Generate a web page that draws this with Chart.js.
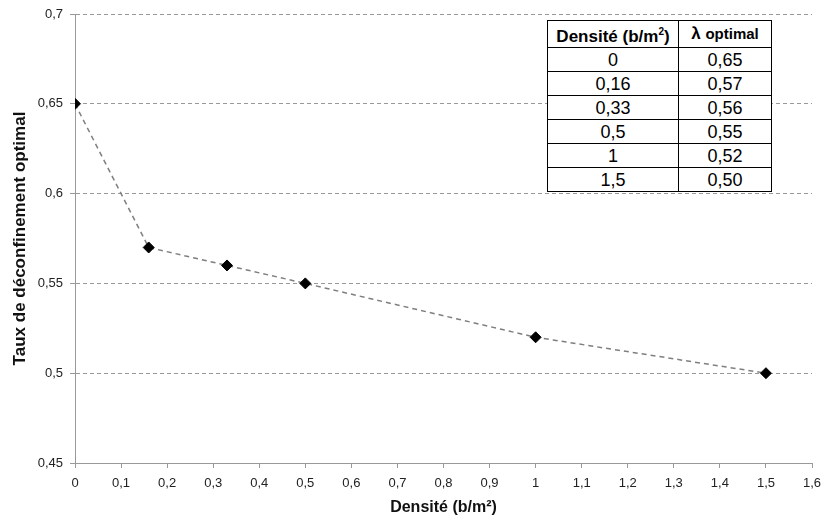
<!DOCTYPE html>
<html><head><meta charset="utf-8">
<script src="https://cdn.jsdelivr.net/npm/chart.js@4/dist/chart.umd.min.js"></script>
<style>
html,body{margin:0;padding:0;background:#fff;}
#wrap{position:relative;width:821px;height:517px;}
#tbl{position:absolute;left:547px;top:20px;border-collapse:collapse;background:#fff;font-family:"Liberation Sans",Arial,sans-serif;}
#tbl td,#tbl th{border:1px solid #000;padding:0;text-align:center;height:23px;font-size:18px;color:#000;line-height:20px;}
#tbl th{font-size:17px;font-weight:bold;height:26px;white-space:nowrap;}
#tbl th sup{font-size:10px;}
</style></head>
<body><div id="wrap"><canvas id="c" width="821" height="517"></canvas>
<table id="tbl"><thead><tr><th style="width:130px">Densité (b/m<sup>2</sup>)</th><th style="width:92px">λ <span style="font-size:15px">optimal</span></th></tr></thead><tbody id="tb"></tbody></table></div>
<script>
const densities = [0, 0.16, 0.33, 0.5, 1, 1.5];
const lambdaOptimal = [0.65, 0.57, 0.56, 0.55, 0.52, 0.50];
const xTicks = [0,0.1,0.2,0.3,0.4,0.5,0.6,0.7,0.8,0.9,1,1.1,1.2,1.3,1.4,1.5,1.6];
const yTicks = [0.45,0.5,0.55,0.6,0.65,0.7];
const xTitle = 'Densité (b/m²)';
const yTitle = 'Taux de déconfinement optimal';

const fr = v => String(v).replace('.', ',');
const tb = document.getElementById('tb');
densities.forEach((d,i)=>{
  const tr=document.createElement('tr');
  tr.innerHTML='<td>'+fr(d)+'</td><td>'+lambdaOptimal[i].toFixed(2).replace('.',',')+'</td>';
  tb.appendChild(tr);
});

const family = '"Liberation Sans", Arial, sans-serif';
const tickFont = {family, size:13};
new Chart(document.getElementById('c'), {
  type:'scatter',
  data:{datasets:[{
    data: densities.map((x,i)=>({x, y:lambdaOptimal[i]})),
    showLine:true,
    borderColor:'#7f7f7f', borderWidth:1.5, borderDash:[5,4],
    pointStyle:'rectRot', pointRadius:5.5, pointBackgroundColor:'#000', pointBorderColor:'#000', pointBorderWidth:1,
    tension:0
  }]},
  options:{
    responsive:false, animation:false,
    plugins:{legend:{display:false}, tooltip:{enabled:false}},
    layout:{padding:{top:14,right:9,left:0,bottom:0}, autoPadding:false},
    scales:{
      x:{type:'linear', min:0, max:1.6,
        afterBuildTicks: s => { s.ticks = xTicks.map(v=>({value:v})); },
        afterFit: s => { s.height = 54; s.paddingLeft = 0; s.paddingRight = 0; },
        ticks:{font:tickFont, color:'#222', padding:8, callback:v=>fr(Math.round(v*10)/10), maxRotation:0, autoSkip:false},
        grid:{drawOnChartArea:false, drawTicks:true, tickLength:5, color:'#999'},
        border:{color:'#999', width:1},
        title:{display:true, text:xTitle, font:{family, size:16, weight:'bold'}, color:'#111', padding:{top:0,bottom:0}}
      },
      y:{type:'linear', min:0.45, max:0.7,
        afterBuildTicks: s => { s.ticks = yTicks.map(v=>({value:v})); },
        afterFit: s => { s.width = 75; s.paddingTop = 0; s.paddingBottom = 0; },
        ticks:{font:tickFont, color:'#222', padding:7, callback:v=>fr(Math.round(v*100)/100), autoSkip:false},
        grid:{color:'#999', tickLength:5, lineWidth:1, tickBorderDash:[]},
        border:{color:'#999', width:1, dash:[4,3]},
        title:{display:true, text:yTitle, font:{family, size:17, weight:'bold'}, color:'#111', padding:{top:10,bottom:0}}
      }
    }
  }
});
</script></body></html>
